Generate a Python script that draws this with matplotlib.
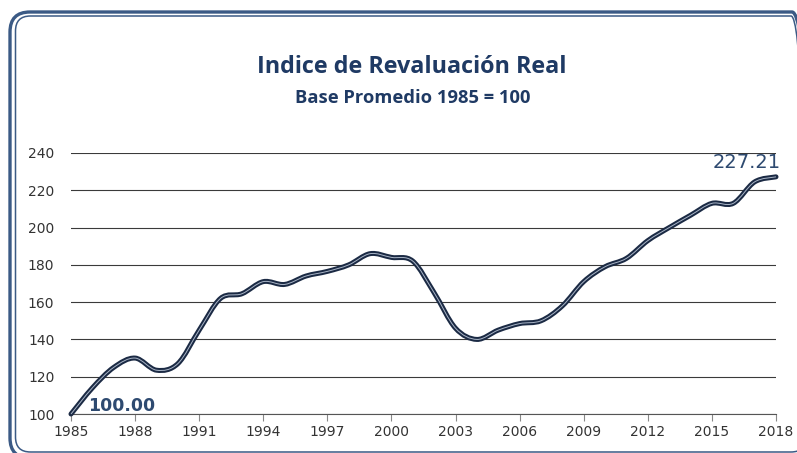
#!/usr/bin/env python3

import matplotlib

matplotlib.use("Agg")
import matplotlib.pyplot as plt
import numpy as np
from matplotlib.patches import FancyBboxPatch, PathPatch
from matplotlib.path import Path


YEARS = list(range(1985, 2019))
INDEX = [
    100.0, 114.0, 125.0, 130.0, 123.5, 127.0, 145.0, 162.0, 164.5, 171.0,
    169.5, 174.0, 176.5, 180.0, 186.0, 184.0, 182.0, 165.0, 146.0, 140.0,
    145.0, 148.5, 150.0, 158.0, 171.0, 179.0, 183.5, 193.0, 200.0, 206.6,
    213.0, 213.0, 224.5, 227.21,
]
X_TICKS = list(range(1985, 2019, 3))
Y_TICKS = list(range(100, 241, 20))

NAVY = "#1f3a64"
LINE = "#1b2a44"
LABEL = "#2e4a70"


def smooth_path(x, y) -> Path:
    # Catmull-Rom segments turned into cubic Bezier curves
    x = np.asarray(x, float)
    y = np.asarray(y, float)
    verts = [(x[0], y[0])]
    codes = [Path.MOVETO]
    n = len(x)
    for i in range(n - 1):
        i0, i3 = max(i - 1, 0), min(i + 2, n - 1)
        c1 = (x[i] + (x[i + 1] - x[i0]) / 6, y[i] + (y[i + 1] - y[i0]) / 6)
        c2 = (x[i + 1] - (x[i3] - x[i]) / 6, y[i + 1] - (y[i3] - y[i]) / 6)
        verts += [c1, c2, (x[i + 1], y[i + 1])]
        codes += [Path.CURVE4] * 3
    return Path(verts, codes)


def add_frame(fig: plt.Figure) -> None:
    # double rounded border; right and bottom edges run off the canvas
    px = 1 / fig.dpi
    H = 453
    for left, top, right, bottom, lw, r in [
        (10, 12, 812, 458, 2.4, 20),
        (15.5, 16, 806, 452, 1.1, 15),
    ]:
        box = FancyBboxPatch(
            (left * px, (H - bottom) * px),
            (right - left) * px,
            (bottom - top) * px,
            boxstyle=f"round,pad=0,rounding_size={r * px}",
            transform=fig.dpi_scale_trans,
            facecolor="none",
            edgecolor="#3b5a85",
            linewidth=lw,
            clip_on=False,
        )
        fig.patches.append(box)


def main() -> None:
    fig = plt.figure(figsize=(7.97, 4.53), dpi=100)
    ax = fig.add_axes([71 / 797, 39 / 453, 705 / 797, 261 / 453])

    path = smooth_path(YEARS, INDEX)
    ax.add_patch(PathPatch(path, facecolor="none", edgecolor=LINE, linewidth=3.6,
                           capstyle="round", clip_on=False, zorder=3))
    ax.add_patch(PathPatch(path, facecolor="none", edgecolor="#aab6c8", linewidth=0.7,
                           clip_on=False, zorder=4))

    ax.set_xlim(YEARS[0], YEARS[-1])
    ax.set_ylim(100, 240)
    ax.set_xticks(X_TICKS)
    ax.set_yticks(Y_TICKS)
    ax.tick_params(axis="x", length=5, width=0.8, color="#888888", pad=3,
                   labelsize=10, labelcolor="#333333")
    ax.tick_params(axis="y", length=0, pad=12, labelsize=10, labelcolor="#333333")
    ax.grid(axis="y", color="#3a3a3a", linewidth=0.8)
    ax.set_axisbelow(True)
    for side in ["top", "right", "left"]:
        ax.spines[side].set_visible(False)
    ax.spines["bottom"].set_color("#555555")
    ax.spines["bottom"].set_linewidth(0.8)

    ax.text(1985.8, 104.5, f"{INDEX[0]:.2f}", color=LABEL, fontsize=12.5,
            fontweight="bold", va="center", ha="left")
    ax.text(YEARS[-1] + 0.2, INDEX[-1] + 2.8, f"{INDEX[-1]:.2f}", color=LABEL,
            fontsize=14, va="bottom", ha="right")

    fig.text(412 / 797, 1 - 67 / 453, "Indice de Revaluación Real", family="Open Sans",
             fontweight="bold", fontsize=16.8, color=NAVY, ha="center", va="center")
    fig.text(413 / 797, 1 - 98 / 453, "Base Promedio 1985 = 100", family="Open Sans",
             fontweight="bold", fontsize=13.2, color=NAVY, ha="center", va="center")

    add_frame(fig)
    fig.savefig("out.png", dpi=100)
    plt.close(fig)


if __name__ == "__main__":
    main()
